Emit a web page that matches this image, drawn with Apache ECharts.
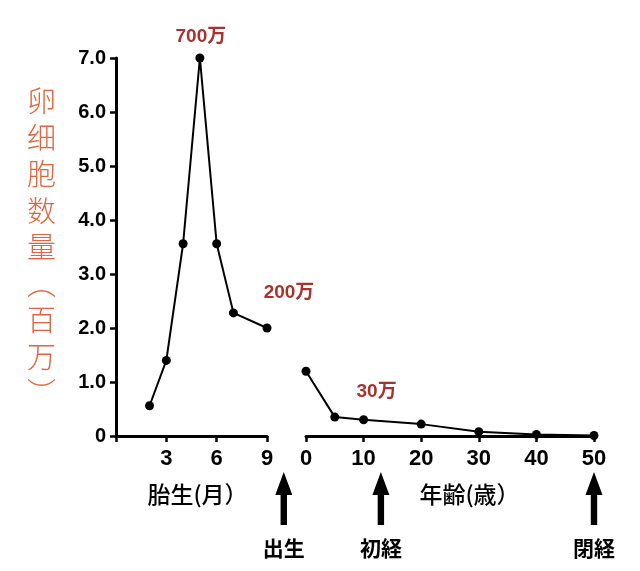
<!DOCTYPE html>
<html>
<head>
<meta charset="utf-8">
<script src="https://cdn.jsdelivr.net/npm/echarts@6/dist/echarts.min.js"></script>
<style>
  html, body { margin: 0; padding: 0; background: #fff; }
  #chart { width: 640px; height: 571px; }
</style>
</head>
<body>
<div id="chart"></div>
<script>
// fetal period (months) and after birth (years)
const fetalMonths = [2, 3, 4, 5, 6, 7, 9];
const fetalCounts = [0.56, 1.4, 3.56, 7.0, 3.56, 2.28, 2.0];
const ageYears = [0, 5, 10, 20, 30, 40, 50];
const ageCounts = [1.2, 0.35, 0.3, 0.22, 0.08, 0.03, 0.01];

// annotation texts attached to points
const fetalNotes = ['', '', '', '700万', '', '', '200万'];
const ageNotes = ['', '', '30万', '', '', '', ''];

// milestones under the axes
const milestoneNames = ['出生', '初経', '閉経'];
const milestoneAxis = [0, 1, 1];
const milestoneAt = [10, 13, 50];

const yName = ['卵', '细', '胞', '数', '量', '︵', '百', '万', '︶'];

const noteOffset = { '700万': [1, -21], '200万': [22, -35], '30万': [13, -28] };

const latin = '"Liberation Sans", Arial, sans-serif';
const jp = '"Noto Sans CJK JP", sans-serif';

function points(xs, ys, notes) {
    return xs.map((x, i) => {
        const item = { value: [x, ys[i]] };
        if (notes[i]) {
            item.label = {
                show: true,
                formatter: notes[i],
                position: 'inside',
                offset: noteOffset[notes[i]],
                color: '#a8322c',
                fontSize: 19,
                fontWeight: 'bold',
                fontFamily: latin + ', "Noto Sans CJK SC"'
            };
        }
        return item;
    });
}

const axisLine = { lineStyle: { color: '#000', width: 3 } };
const axisTick = { length: 6, lineStyle: { color: '#000', width: 2.5 } };
const tickFont = { color: '#000', fontSize: 22, fontWeight: 'bold', fontFamily: latin };
const nameFont = { color: '#000', fontSize: 23, fontWeight: 500, fontFamily: jp };

const myChart = echarts.init(document.getElementById('chart'));

myChart.setOption({
    animation: false,
    grid: [
        { left: 116, top: 58, width: 151, height: 378 },
        { left: 306, top: 58, width: 288, height: 378 }
    ],
    xAxis: [
        {
            type: 'value', gridIndex: 0, min: 0, max: 9, interval: 3,
            axisLine: axisLine, axisTick: axisTick, splitLine: { show: false },
            axisLabel: Object.assign({ margin: 12, formatter: v => v === 0 ? '' : v }, tickFont),
            name: '胎生(月）', nameLocation: 'middle', nameGap: 47,
            nameTextStyle: Object.assign({ padding: [0, 0, 0, 12] }, nameFont)
        },
        {
            type: 'value', gridIndex: 1, min: 0, max: 50, interval: 10,
            axisLine: axisLine, axisTick: axisTick, splitLine: { show: false },
            axisLabel: Object.assign({ margin: 12 }, tickFont),
            name: '年齢(歳）', nameLocation: 'middle', nameGap: 47,
            nameTextStyle: Object.assign({ padding: [0, 0, 0, 39] }, nameFont)
        }
    ],
    yAxis: [
        {
            type: 'value', gridIndex: 0, min: 0, max: 7, interval: 1,
            axisLine: { show: true, lineStyle: { color: '#000', width: 3 } },
            axisTick: { show: true, length: 6, lineStyle: { color: '#000', width: 2.5 } },
            splitLine: { show: false },
            axisLabel: { margin: 10, color: '#000', fontSize: 20, fontWeight: 'bold', fontFamily: latin,
                formatter: v => v === 0 ? '0' : v.toFixed(1) },
            name: yName.join('\n'), nameLocation: 'middle', nameRotate: 0, nameGap: 60,
            nameTextStyle: { color: '#e4643e', fontSize: 29, lineHeight: 36.5, fontWeight: 300,
                fontFamily: '"Noto Sans CJK SC", sans-serif', padding: [0, 0, 60, 0] }
        },
        { type: 'value', gridIndex: 1, min: 0, max: 7, show: false }
    ],
    series: [
        {
            type: 'line', xAxisIndex: 0, yAxisIndex: 0,
            data: points(fetalMonths, fetalCounts, fetalNotes),
            symbol: 'circle', symbolSize: 9,
            lineStyle: { color: '#000', width: 2 },
            itemStyle: { color: '#000' }
        },
        {
            type: 'line', xAxisIndex: 1, yAxisIndex: 1,
            data: points(ageYears, ageCounts, ageNotes),
            symbol: 'circle', symbolSize: 9,
            lineStyle: { color: '#000', width: 2 },
            itemStyle: { color: '#000' }
        }
    ]
});

// arrows and milestone labels below the axes
const graphics = milestoneNames.map((name, i) => {
    const x = myChart.convertToPixel({ xAxisIndex: milestoneAxis[i] }, milestoneAt[i]);
    return {
        type: 'group',
        x: x,
        y: 472,
        children: [
            {
                type: 'polygon',
                shape: { points: [[0, 0], [8.5, 23], [3.2, 23], [3.2, 53], [-3.2, 53], [-3.2, 23], [-8.5, 23]] },
                style: { fill: '#000' }
            },
            {
                type: 'text',
                x: 0,
                y: 76,
                style: {
                    text: name, fill: '#000', fontSize: 21, fontWeight: 'bold', fontFamily: jp,
                    textAlign: 'center', textVerticalAlign: 'middle'
                }
            }
        ]
    };
});

myChart.setOption({ graphic: graphics });
</script>
</body>
</html>
